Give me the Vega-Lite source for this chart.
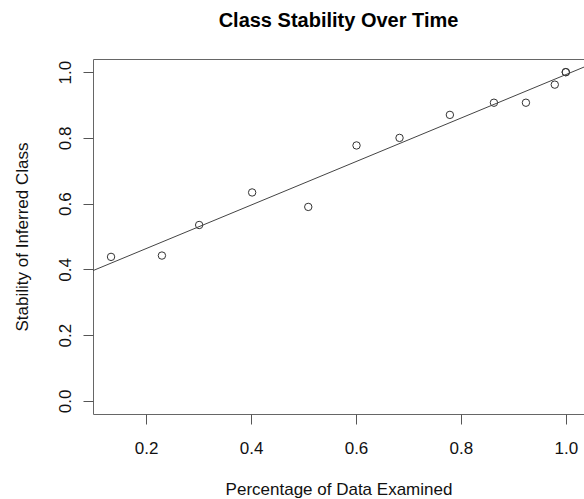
{
  "$schema": "https://vega.github.io/schema/vega-lite/v6.json",
  "width": 491,
  "height": 355,
  "autosize": {"type": "none"},
  "padding": {"left": 93, "top": 59, "right": 0, "bottom": 85},
  "background": "white",
  "config": {
    "font": "Liberation Sans",
    "view": {"stroke": "#666666", "strokeWidth": 1},
    "axis": {
      "grid": false,
      "domain": false,
      "tickSize": 10,
      "tickColor": "#555555",
      "labelFontSize": 17,
      "labelColor": "#111111",
      "titleFontSize": 17,
      "titleFontWeight": "normal",
      "titleColor": "#111111"
    }
  },
  "title": {
    "text": "Class Stability Over Time",
    "fontSize": 20,
    "fontWeight": "bold",
    "color": "#000000",
    "anchor": "middle",
    "frame": "group",
    "offset": 28
  },
  "data": {
    "values": [
      {"x": 0.133, "y": 0.438},
      {"x": 0.230, "y": 0.442},
      {"x": 0.301, "y": 0.535},
      {"x": 0.402, "y": 0.634},
      {"x": 0.509, "y": 0.590},
      {"x": 0.601, "y": 0.777},
      {"x": 0.683, "y": 0.800},
      {"x": 0.779, "y": 0.870},
      {"x": 0.863, "y": 0.907},
      {"x": 0.924, "y": 0.907},
      {"x": 0.979, "y": 0.962},
      {"x": 1.0, "y": 1.0},
      {"x": 1.0, "y": 1.0}
    ]
  },
  "encoding": {
    "x": {
      "field": "x",
      "type": "quantitative",
      "scale": {"domain": [0.0986, 1.0347], "nice": false, "zero": false},
      "axis": {
        "title": "Percentage of Data Examined",
        "values": [0.2, 0.4, 0.6, 0.8, 1.0],
        "format": ".1f",
        "labelPadding": 16,
        "titleY": 80,
        "titleBaseline": "alphabetic"
      }
    },
    "y": {
      "field": "y",
      "type": "quantitative",
      "scale": {"domain": [-0.04, 1.04], "nice": false, "zero": false},
      "axis": {
        "title": "Stability of Inferred Class",
        "values": [0, 0.2, 0.4, 0.6, 0.8, 1.0],
        "format": ".1f",
        "labelAngle": -90,
        "labelAlign": "center",
        "labelBaseline": "alphabetic",
        "labelPadding": 13,
        "titleX": -66,
        "titleBaseline": "alphabetic"
      }
    }
  },
  "layer": [
    {
      "mark": {"type": "point", "shape": "circle", "filled": false, "size": 55, "color": "#333333", "strokeWidth": 1, "opacity": 1}
    },
    {
      "transform": [{"regression": "y", "on": "x", "extent": [0.0986, 1.0347]}],
      "mark": {"type": "line", "color": "#444444", "strokeWidth": 1, "clip": true}
    }
  ]
}
